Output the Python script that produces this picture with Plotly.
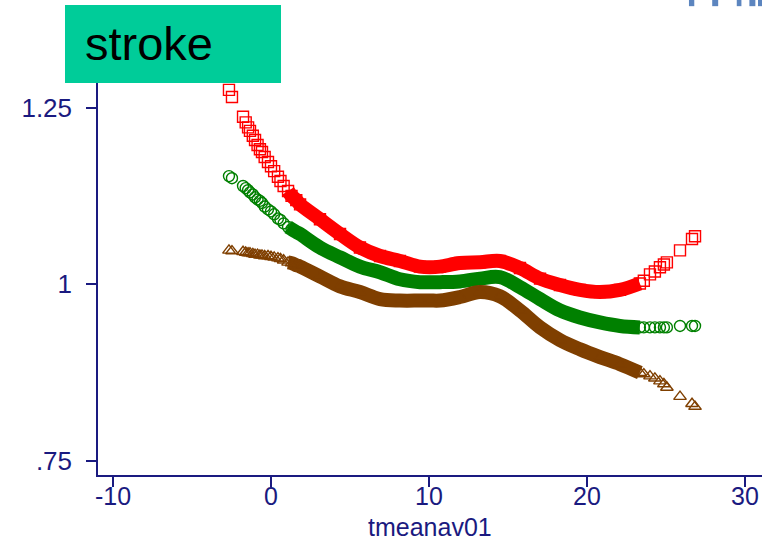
import plotly.graph_objects as go

# shared predictor values (tmeanav01)
x_vals = [-2.66, -2.47, -1.77, -1.6, -1.45, -1.33, -1.15, -1.01, -0.85, -0.7, -0.57, -0.4, -0.19,
          0.0, 0.2, 0.44, 0.6, 0.8, 1.08, 1.3, 1.6, 1.84,
          3.10, 4.37, 5.63, 6.90, 8.16, 9.43, 10.07, 10.70, 11.96, 13.23, 14.49, 15.76, 17.03,
          18.29, 19.56, 20.82, 22.09, 23.35,
          23.6, 23.99, 24.3, 24.62, 24.87, 25.06, 25.89, 26.65, 26.84]

red_vals = [1.275, 1.265, 1.237, 1.229, 1.222, 1.217, 1.210, 1.204, 1.197, 1.191, 1.187, 1.180, 1.173,
            1.167, 1.160, 1.152, 1.146, 1.139, 1.132, 1.125, 1.119, 1.113,
            1.092, 1.071, 1.052, 1.040, 1.033, 1.025, 1.024, 1.025, 1.030, 1.031, 1.033, 1.023, 1.008,
            0.999, 0.992, 0.989, 0.992, 1.001,
            1.005, 1.014, 1.018, 1.024, 1.028, 1.031, 1.048, 1.064, 1.068]

green_vals = [1.153, 1.150, 1.139, 1.136, 1.133, 1.130, 1.127, 1.123, 1.120, 1.118, 1.115, 1.110, 1.106,
              1.103, 1.099, 1.093, 1.091, 1.086, 1.081, 1.078, 1.074, 1.071,
              1.052, 1.038, 1.025, 1.017, 1.007, 1.003, 1.003, 1.003, 1.004, 1.008, 1.010, 0.996, 0.979,
              0.963, 0.953, 0.946, 0.941, 0.939,
              0.939, 0.939, 0.939, 0.939, 0.939, 0.939, 0.941, 0.941, 0.941]

brown_vals = [1.048, 1.047, 1.046, 1.045, 1.044, 1.044, 1.043, 1.042, 1.042, 1.041, 1.041, 1.040, 1.040,
              1.039, 1.038, 1.037, 1.036, 1.034, 1.031, 1.030, 1.027, 1.025,
              1.011, 0.997, 0.989, 0.979, 0.977, 0.977, 0.977, 0.977, 0.982, 0.989, 0.983, 0.963, 0.939,
              0.921, 0.908, 0.897, 0.887, 0.875,
              0.873, 0.870, 0.867, 0.863, 0.859, 0.854, 0.841, 0.831, 0.827]

x_ticks = [-10, 0, 10, 20, 30]
x_tick_text = ["-10", "0", "10", "20", "30"]
y_ticks = [0.75, 1.0, 1.25]
y_tick_text = [".75", "1", "1.25"]
title_text = "stroke"
x_title = "tmeanav01"

NAVY = "#1a1a80"
FONT = "Liberation Sans, Arial, sans-serif"
series = [
    (red_vals, "#ff0000", "square-open"),
    (green_vals, "#008000", "circle-open"),
    (brown_vals, "#7f3f00", "triangle-up-open"),
]

dense_idx = [i for i, xv in enumerate(x_vals) if 1.08 <= xv <= 23.35]

fig = go.Figure()
for yv, col, sym in series:
    fig.add_trace(go.Scatter(
        x=[x_vals[i] for i in dense_idx], y=[yv[i] for i in dense_idx],
        mode="lines", line=dict(color=col, width=14, shape="spline"),
        hoverinfo="skip", showlegend=False))
    fig.add_trace(go.Scatter(
        x=x_vals, y=yv, mode="markers",
        marker=dict(symbol=sym, size=11, color=col, line=dict(color=col, width=1.4)),
        showlegend=False))

fig.update_layout(
    width=771, height=541,
    margin=dict(l=98, r=9, t=83, b=66),
    paper_bgcolor="white", plot_bgcolor="white",
    font=dict(family=FONT, color=NAVY, size=26),
    xaxis=dict(range=[-10.95, 31.08], tickvals=x_ticks, ticktext=x_tick_text, showline=True,
               linecolor=NAVY, linewidth=1.5,
               ticks="outside", ticklen=10, tickwidth=1.5, tickcolor=NAVY, showgrid=False, zeroline=False,
               tickfont=dict(size=25, color=NAVY, family=FONT), automargin=False, ticklabelstandoff=-12),
    yaxis=dict(range=[0.7302, 1.2847], tickvals=y_ticks, ticktext=y_tick_text, showline=True,
               linecolor=NAVY, linewidth=1.5, ticks="outside", ticklen=10, tickwidth=1.5, tickcolor=NAVY,
               showgrid=False, zeroline=False, tickfont=dict(size=26, color=NAVY, family=FONT),
               automargin=False, ticklabelstandoff=9),
)

# x-axis title
fig.add_annotation(text=x_title, xref="paper", yref="paper", x=0.5, y=-0.132,
                   xanchor="center", yanchor="middle", showarrow=False, borderpad=0,
                   font=dict(size=25, color=NAVY, family=FONT))

# title box
fig.add_shape(type="rect", xref="paper", yref="paper", x0=-0.0497, x1=0.2756, y0=1.0, y1=1.199,
              fillcolor="#00cc99", line=dict(width=0), layer="above")
fig.add_annotation(text=title_text, xref="paper", yref="paper", x=-0.022, y=1.0995,
                   xanchor="left", yanchor="middle", showarrow=False,
                   font=dict(size=47, color="black", family=FONT))

# cropped logo fragments at top right
for x0, x1 in [(0.890, 0.898), (0.925, 0.934), (0.962, 0.969), (0.981, 0.990), (0.994, 1.0)]:
    fig.add_shape(type="rect", xref="paper", yref="paper", x0=x0, x1=x1, y0=1.196, y1=1.215,
                  fillcolor="#4a78b8", line=dict(width=0), layer="above", opacity=0.9)

fig.write_html("out.html")
